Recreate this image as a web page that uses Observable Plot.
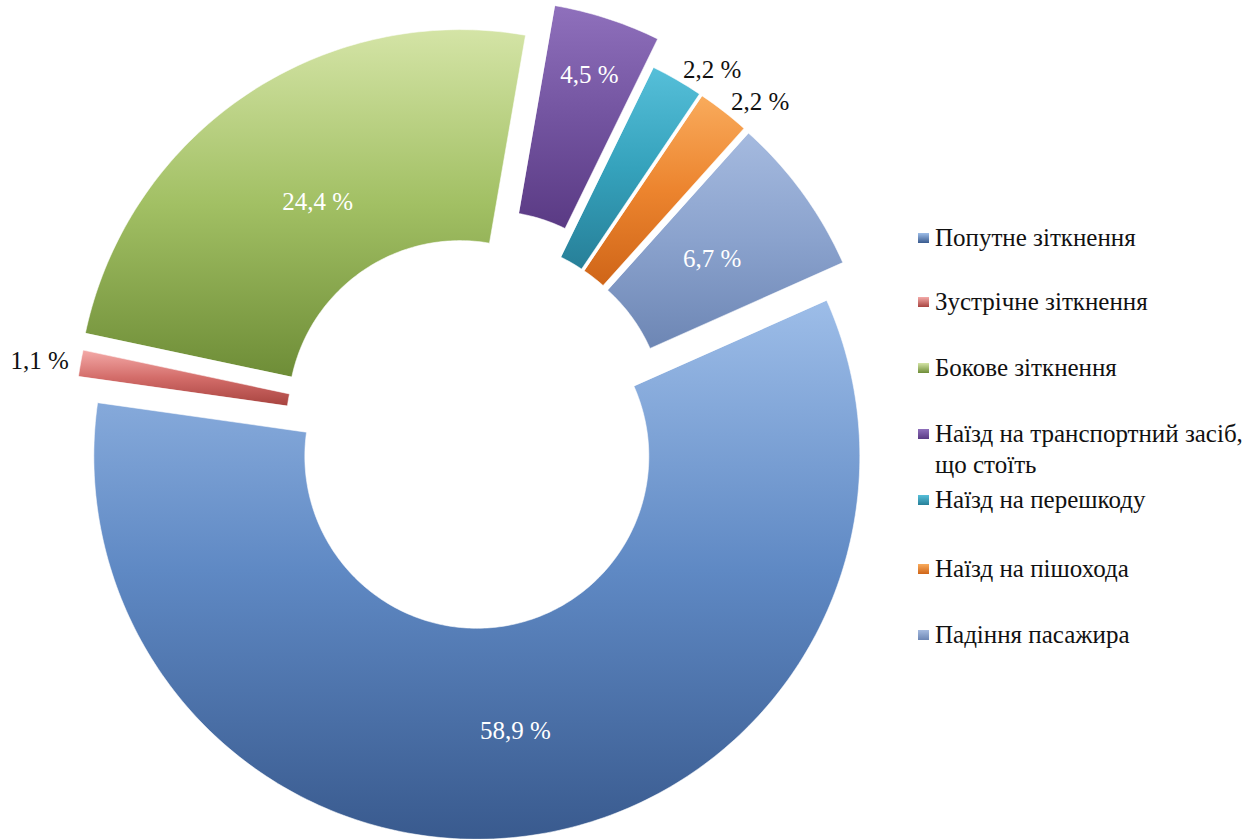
<!DOCTYPE html>
<html><head><meta charset="utf-8">
<script src="https://cdn.jsdelivr.net/npm/d3@7"></script>
<script src="https://cdn.jsdelivr.net/npm/@observablehq/plot@0.6"></script>
<style>
body{margin:0;background:#fff;}
#wrap{position:relative;width:1254px;height:839px;overflow:hidden;}
#legend{position:absolute;left:915px;top:0;width:339px;height:839px;}
.item{position:absolute;left:0;white-space:nowrap;color:#111;line-height:31px;}
.sw{position:absolute;left:3px;top:11px;width:11px;height:10px;}
.txt{position:absolute;left:20px;top:0;}
</style></head><body><div id="wrap"></div>
<script>
// ---- data ----
const categories = [
  "Попутне зіткнення",
  "Зустрічне зіткнення",
  "Бокове зіткнення",
  "Наїзд на транспортний засіб, що стоїть",
  "Наїзд на перешкоду",
  "Наїзд на пішохода",
  "Падіння пасажира"
];
const shares = [58.9, 1.1, 24.4, 4.5, 2.2, 2.2, 6.7];

// ---- styling / layout config ----
const gradStops = [
  ["#9dbde8", "#5f89c4", "#395a8e"],
  ["#f4aaa8", "#d36c69", "#a84440"],
  ["#d4e4a6", "#a2c064", "#6e8d37"],
  ["#8f70bc", "#7354a0", "#5a3a84"],
  ["#56bfd9", "#35a2bc", "#277f98"],
  ["#f9ab5c", "#ec842e", "#cf6518"],
  ["#a5badf", "#8aa2cd", "#6d86b4"]
];
const explode = [24, 16, 24, 52, 24, 24, 24];
// label placement: fraction across the ring for inside labels, null = outside label
const labelFrac = [0.5, null, 0.39, 0.72, null, null, 0.47];
const W = 1254, H = 839;
const cx = 473, cy = 432, R = 383, r0 = 172, startDeg = 66;
const FONT = "Liberation Serif";
const FS = 25;

const total = d3.sum(shares);
const rad = d => d * Math.PI / 180;
let acc = startDeg;
const slices = shares.map((v, i) => {
  const a0 = acc, a1 = acc + v / total * 360;
  acc = a1;
  const mid = (a0 + a1) / 2;
  const ox = cx + explode[i] * Math.sin(rad(mid));
  const oy = cy - explode[i] * Math.cos(rad(mid));
  return {i, name: categories[i], value: v, a0, a1, mid, ox, oy};
});

const pts = [];
for (const s of slices) {
  const n = Math.max(4, Math.ceil(s.a1 - s.a0));
  for (let k = 0; k <= n; k++) {
    const a = rad(s.a0 + (s.a1 - s.a0) * k / n);
    pts.push({key: s.i, x: s.ox + R * Math.sin(a), y: s.oy - R * Math.cos(a)});
  }
  for (let k = n; k >= 0; k--) {
    const a = rad(s.a0 + (s.a1 - s.a0) * k / n);
    pts.push({key: s.i, x: s.ox + r0 * Math.sin(a), y: s.oy - r0 * Math.cos(a)});
  }
}

const fmt = v => v.toFixed(1).replace(".", ",") + " %";
const labels = slices.map(s => {
  const f = labelFrac[s.i];
  const inside = f !== null;
  const rr = inside ? r0 + f * (R - r0) : R + 12;
  const a = rad(s.mid);
  return {
    x: s.ox + rr * Math.sin(a), y: s.oy - rr * Math.cos(a),
    text: fmt(s.value), inside,
    anchor: inside ? "middle" : (Math.sin(a) >= 0 ? "start" : "end")
  };
});

const marks = slices.map(s =>
  Plot.line(pts.filter(p => p.key === s.i), {
    x: "x", y: "y", fill: `url(#g${s.i})`,
    stroke: "#ffffff", strokeOpacity: 0.55, strokeWidth: 1, curve: "linear-closed"
  })
);
marks.push(Plot.text(labels.filter(d => d.inside), {
  x: "x", y: "y", text: "text", fill: "white", fontSize: FS,
  fontFamily: FONT, textAnchor: "middle"
}));
marks.push(Plot.text(labels.filter(d => !d.inside && d.anchor === "start"), {
  x: "x", y: "y", text: "text", fill: "#111", fontSize: FS,
  fontFamily: FONT, textAnchor: "start"
}));
marks.push(Plot.text(labels.filter(d => !d.inside && d.anchor === "end"), {
  x: "x", y: "y", text: "text", fill: "#111", fontSize: FS,
  fontFamily: FONT, textAnchor: "end"
}));

const chart = Plot.plot({
  width: W, height: H,
  marginTop: 0, marginRight: 0, marginBottom: 0, marginLeft: 0,
  x: {domain: [0, W], range: [0, W], axis: null},
  y: {domain: [0, H], range: [0, H], axis: null},
  style: {background: "white", overflow: "visible"},
  marks
});

// gradients
const svgns = "http://www.w3.org/2000/svg";
const defs = document.createElementNS(svgns, "defs");
gradStops.forEach((stops, i) => {
  const g = document.createElementNS(svgns, "linearGradient");
  g.setAttribute("id", "g" + i);
  g.setAttribute("x1", "0"); g.setAttribute("y1", "0");
  g.setAttribute("x2", "0"); g.setAttribute("y2", "1");
  stops.forEach((c, k) => {
    const st = document.createElementNS(svgns, "stop");
    st.setAttribute("offset", String(k / (stops.length - 1)));
    st.setAttribute("stop-color", c);
    g.appendChild(st);
  });
  defs.appendChild(g);
});
chart.insertBefore(defs, chart.firstChild);

const wrap = document.getElementById("wrap");
wrap.appendChild(chart);

// legend
const legendY = [238, 302, 368, 434, 500, 569, 635];
const legend = document.createElement("div");
legend.id = "legend";
categories.forEach((c, i) => {
  const it = document.createElement("div");
  it.className = "item";
  it.style.top = (legendY[i] - 16) + "px";
  it.style.fontFamily = "'Liberation Serif', serif";
  it.style.fontSize = FS + "px";
  const sw = document.createElement("div");
  sw.className = "sw";
  sw.style.background = `linear-gradient(${gradStops[i][0]}, ${gradStops[i][2]})`;
  const t = document.createElement("div");
  t.className = "txt";
  if (i === 3) {
    t.innerHTML = "Наїзд на транспортний засіб,<br>що стоїть";
  } else t.textContent = c;
  it.appendChild(sw); it.appendChild(t);
  legend.appendChild(it);
});
wrap.appendChild(legend);
</script>
</body></html>
